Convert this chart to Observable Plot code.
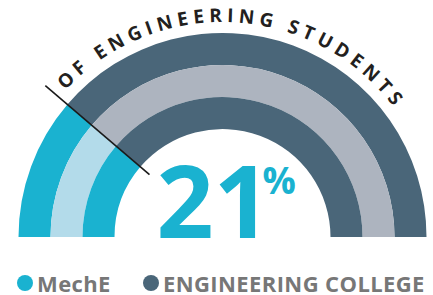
<!DOCTYPE html>
<html>
<head>
<meta charset="utf-8">
<script src="https://cdn.jsdelivr.net/npm/d3@7"></script>
<script src="https://cdn.jsdelivr.net/npm/@observablehq/plot@0.6"></script>
<style>
  html, body { margin: 0; padding: 0; background: #fff; }
  body { width: 433px; height: 295px; overflow: hidden; font-family: "Open Sans", sans-serif; }
  #legend { position: relative; height: 45px; }
  .item { position: absolute; top: 0; height: 45px; display: flex; align-items: center; padding-top: 20px; box-sizing: border-box; }
  .dot { width: 16px; height: 16px; border-radius: 50%; margin-right: 4px; flex: none; }
  .lab { font-family: "Open Sans", sans-serif; font-weight: 700; font-size: 22px; color: #777777; letter-spacing: 0.4px; white-space: nowrap; line-height: 26px; }
</style>
</head>
<body>
<div id="chart"></div>
<div id="legend"></div>
<script>
// ---- data ----
const rings = ["Outer ring", "Middle ring", "Inner ring"];
const groups = ["MechE", "ENGINEERING COLLEGE"];
const ringShare = [22.5, 22.5, 22.5];     // MechE share drawn in each ring (%)
const headline = 21;                       // headline value (%)
const arcTitle = "OF ENGINEERING STUDENTS";

// ---- styles ----
const CYAN = "#1ab2d0", LIGHTBLUE = "#b3dbea", SLATE = "#4a6679", GREY = "#adb4bf";
const ringColors = [[CYAN, SLATE], [LIGHTBLUE, GREY], [CYAN, SLATE]];
const legendColors = [CYAN, SLATE];
const TITLE_SIZE = 19;
const TITLE_SPACING = 5.0;    // px between letters
const TITLE_CENTER_DEG = 2.8; // clockwise from vertical

const segments = rings.flatMap((ring, i) => [
  {ring, group: groups[0], from: 0, to: ringShare[i]},
  {ring, group: groups[1], from: ringShare[i], to: 100}
]);
const key = d => d.ring + "|" + d.group;
const colorDomain = rings.flatMap(r => groups.map(g => r + "|" + g));
const colorRange = ringColors.flat();

function center(d) {
  return [(d.marginLeft + d.width - d.marginRight) / 2, d.height - d.marginBottom];
}
function bandwidth(scales) {
  if (typeof scales.y.bandwidth === "function") return scales.y.bandwidth();
  const r = scales.y.range();
  return Math.abs(r[1] - r[0]) / rings.length;
}

function arcRender(index, scales, values, dimensions) {
  const [cx, cy] = center(dimensions);
  const bw = bandwidth(scales);
  const arc = d3.arc();
  const g = d3.create("svg:g").attr("transform", `translate(${cx},${cy})`);
  for (const i of index) {
    g.append("path")
      .attr("d", arc({innerRadius: values.y[i], outerRadius: values.y[i] + bw, startAngle: values.x1[i], endAngle: values.x2[i]}))
      .attr("fill", values.fill[i]);
  }
  return g.node();
}

function dividerRender(index, scales, values, dimensions) {
  const [cx, cy] = center(dimensions);
  const [rOut, rIn] = scales.y.range();
  const r0 = Math.min(rOut, rIn) - 11, r1 = Math.max(rOut, rIn) + 29;
  const g = d3.create("svg:g").attr("transform", `translate(${cx},${cy})`);
  for (const i of index) {
    const a = values.x[i];
    g.append("line")
      .attr("x1", r0 * Math.sin(a)).attr("y1", -r0 * Math.cos(a))
      .attr("x2", r1 * Math.sin(a)).attr("y2", -r1 * Math.cos(a))
      .attr("stroke", "#1a1a1a").attr("stroke-width", 1.6);
  }
  return g.node();
}

// curved title: each letter placed and rotated along an arc just outside the outer ring
function titleRender(index, scales, values, dimensions) {
  const [cx, cy] = center(dimensions);
  const [rOut, rIn] = scales.y.range();
  const r = Math.max(rOut, rIn) + 11;
  const ctx = document.createElement("canvas").getContext("2d");
  ctx.font = `700 ${TITLE_SIZE}px 'Open Sans'`;
  const g = d3.create("svg:g").attr("transform", `translate(${cx},${cy})`);
  for (const i of index) {
    const chars = Array.from(values.text ? values.text[i] : arcTitle);
    const widths = chars.map(c => ctx.measureText(c).width);
    const total = d3.sum(widths) + TITLE_SPACING * (chars.length - 1);
    let s = TITLE_CENTER_DEG * Math.PI / 180 * r - total / 2;
    chars.forEach((c, k) => {
      const mid = s + widths[k] / 2;
      const a = mid / r;
      if (c !== " ") {
        g.append("text")
          .attr("transform", `translate(${r * Math.sin(a)},${-r * Math.cos(a)}) rotate(${a * 180 / Math.PI})`)
          .attr("text-anchor", "middle")
          .attr("font-family", "'Open Sans', sans-serif")
          .attr("font-weight", 700)
          .attr("font-size", TITLE_SIZE)
          .attr("fill", "#231f20")
          .text(c);
      }
      s += widths[k] + TITLE_SPACING;
    });
  }
  return g.node();
}

const chart = Plot.plot({
  width: 433,
  height: 250,
  marginLeft: 12, marginRight: 0, marginTop: 0, marginBottom: 13,
  style: {fontFamily: "'Open Sans', sans-serif", background: "#fff"},
  x: {domain: [0, 100], range: [-Math.PI / 2, Math.PI / 2], axis: null},
  y: {type: "band", domain: rings, range: [204, 107], padding: 0, axis: null},
  color: {type: "ordinal", domain: colorDomain, range: colorRange},
  marks: [
    Plot.barX(segments, {x1: "from", x2: "to", y: "ring", fill: key, render: arcRender}),
    Plot.ruleX([ringShare[0]], {x: d => d, render: dividerRender}),
    Plot.text([arcTitle], {text: d => d, frameAnchor: "middle", render: titleRender}),
    Plot.text([headline], {text: d => String(d), frameAnchor: "bottom", lineAnchor: "bottom", textAnchor: "start",
      dx: -66.5, fontSize: 100, fontWeight: 700, fill: CYAN}),
    Plot.text([headline], {text: () => "%", frameAnchor: "bottom", lineAnchor: "bottom", textAnchor: "start",
      dx: 39.5, dy: -44, fontSize: 37, fontWeight: 700, fill: CYAN})
  ]
});
document.getElementById("chart").appendChild(chart);

// legend
const legend = document.getElementById("legend");
const lefts = [17, 143];
groups.forEach((g, i) => {
  const item = document.createElement("div");
  item.className = "item";
  item.style.left = lefts[i] + "px";
  const dot = document.createElement("span");
  dot.className = "dot";
  dot.style.background = legendColors[i];
  const lab = document.createElement("span");
  lab.className = "lab";
  lab.textContent = g;
  item.appendChild(dot);
  item.appendChild(lab);
  legend.appendChild(item);
});
</script>
</body>
</html>
